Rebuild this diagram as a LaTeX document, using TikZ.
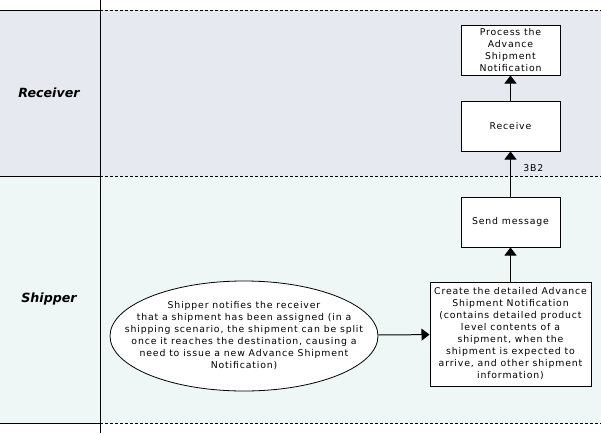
\documentclass[tikz,border=0pt]{standalone}
\usepackage{fontspec}
\setmainfont{DejaVu Sans}[LetterSpace=9]
\newfontfamily\lanefont{DejaVu Sans}
\usetikzlibrary{shapes.geometric,arrows.meta,positioning}
\definecolor{recvfill}{RGB}{230,233,239}
\definecolor{shipfill}{RGB}{239,246,246}
\tikzset
{
    stepbox/.style   = {rectangle, draw=black, fill=white, align=center, minimum width=74.25pt, minimum height=37.5pt, inner sep=1pt, line width=0.75pt, font=\fontsize{7}{9}\selectfont},
    eventnode/.style = {ellipse, draw=black, fill=white, align=center, minimum width=201pt, minimum height=82.5pt, inner xsep=-30pt, inner ysep=0pt, line width=0.6pt, font=\fontsize{7}{9}\selectfont},
    lanelabel/.style = {font=\lanefont\fontsize{9.5}{11}\selectfont\bfseries\itshape},
    laneline/.style  = {line width=0.75pt},
    lanedash/.style  = {line width=0.75pt, dash pattern=on 2.25pt off 1.5pt},
    flow/.style      = {-{Triangle[width=9pt,length=6pt]}, line width=0.75pt}
}

\begin{document}
\begin{tikzpicture}[x=0.75pt, y=-0.75pt]
    \useasboundingbox (0,0) rectangle (601,433);
    % lanes
    \fill [recvfill] (0,10) rectangle (601,176);
    \fill [shipfill] (0,176) rectangle (601,423);
    \foreach \y in {10,176,423}
    {
        \draw [laneline] (0,\y) -- (100,\y);
        \draw [lanedash] (100,\y) -- (601,\y);
    }
    \draw [laneline] (100,0) -- (100,433);
    \node [lanelabel] (receiver) at (49,93) {Receiver};
    \node [lanelabel] (shipper) at (49,299) {Shipper};

    % steps
    \node [stepbox, minimum width=120.75pt, minimum height=78pt] (create) at (510.5,334)
        {Create the detailed Advance \\ Shipment Notification \\ (contains detailed product \\ level contents of a \\ shipment, when the \\ shipment is expected to \\ arrive, and other shipment \\ information)};
    \node [stepbox] (send) at (510.5,222) {Send message};
    \node [stepbox, above=33.75pt of send] (receive) {Receive};
    \node [stepbox, above=18.75pt of receive] (process) {Process the \\ Advance \\ Shipment \\ Notification};
    \node [eventnode] (event) at (244,336)
        {Shipper notifies the receiver \\ that a shipment has been assigned (in a \\ shipping scenario, the shipment can be split \\ once it reaches the destination, causing a \\ need to issue a new Advance Shipment \\ Notification)};

    % flow
    \draw [flow] (event) -- (create);
    \draw [flow] (create) -- (send);
    \draw [flow] (send) -- node [pos=0.64, right=6pt, font=\fontsize{7}{9}\selectfont] (msg) {3B2} (receive);
    \draw [flow] (receive) -- (process);
\end{tikzpicture}
\end{document}
